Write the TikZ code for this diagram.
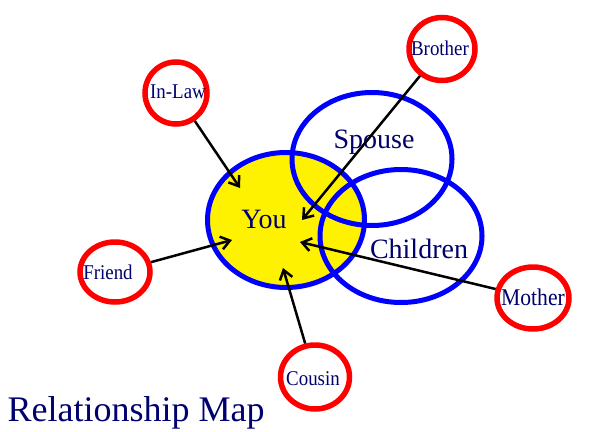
\documentclass[tikz,border=0pt]{standalone}
\usepackage{fontspec}
\setmainfont{Liberation Serif}
\usetikzlibrary{shapes.geometric,arrows.meta}
\definecolor{navytext}{RGB}{0,0,110}
\tikzset{
  bigring/.style={ellipse,draw=blue,line width=5pt,inner sep=0pt},
  kinring/.style={ellipse,draw=red,line width=5.5pt,inner sep=0pt},
  bigword/.style={anchor=base,text=navytext,font=\fontsize{28}{30}\selectfont},
  kinword/.style={anchor=base,text=navytext,font=\fontsize{21}{23}\selectfont,xscale=0.9,transform shape},
  tie/.style={line width=2.5pt,-{Straight Barb[length=9pt,width=13pt]}}
}
\begin{document}
\begin{tikzpicture}[x=1pt,y=-1pt]
        \useasboundingbox (0,0) rectangle (591,431);
        % the three big rings
        \node[bigring,fill=yellow,minimum width=157pt,minimum height=135pt] (you) at (286,220) {};
        \node[bigring,minimum width=160pt,minimum height=133pt] (spouse) at (372,159) {};
        \node[bigring,minimum width=162pt,minimum height=133pt] (children) at (401,236) {};
        \node[bigword] (youtxt) at (264,228) {You};
        \node[bigword] (spousetxt) at (374,148) {Spouse};
        \node[bigword] (childrentxt) at (419,258) {Children};
        % the relatives
        \node[kinring,minimum width=66pt,minimum height=63pt] (brother) at (442,49) {};
        \node[kinring,minimum width=62pt,minimum height=62pt] (inlaw) at (176,93) {};
        \node[kinring,minimum width=70pt,minimum height=60pt] (friend) at (115,272) {};
        \node[kinring,minimum width=72pt,minimum height=62pt] (mother) at (533,298) {};
        \node[kinring,minimum width=69pt,minimum height=64pt] (cousin) at (315,377) {};
        \node[kinword] (brothertxt) at (440,55) {Brother};
        \node[kinword] (inlawtxt) at (178,98) {In-Law};
        \node[kinword] (friendtxt) at (108,279) {Friend};
        \node[kinword,font=\fontsize{24}{26}\selectfont] (mothertxt) at (533,305) {Mother};
        \node[kinword] (cousintxt) at (313,385) {Cousin};
        % arrow tips inside you
        \coordinate (tinlaw) at (240,188);
        \coordinate (tbrother) at (302,220);
        \coordinate (tfriend) at (232,240);
        \coordinate (tmother) at (300,242);
        \coordinate (tcousin) at (283,268);
        \draw[tie] (inlaw) -- (tinlaw);
        \draw[tie] (brother) -- (tbrother);
        \draw[tie] (friend) -- (tfriend);
        \draw[tie] (mother) -- (tmother);
        \draw[tie] (cousin) -- (tcousin);
        \node[anchor=base west,text=navytext,font=\fontsize{36}{38}\selectfont] (title) at (4,421) {Relationship Map};
    \end{tikzpicture}
\end{document}
